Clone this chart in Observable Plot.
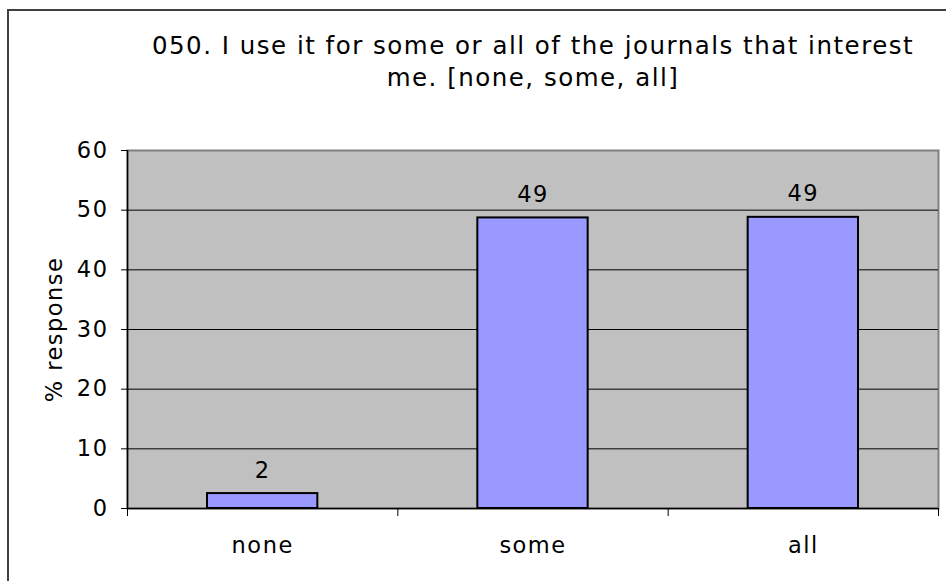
<!DOCTYPE html>
<html>
<head>
<meta charset="utf-8">
<script src="https://cdn.jsdelivr.net/npm/d3@7"></script>
<script src="https://cdn.jsdelivr.net/npm/@observablehq/plot@0.6"></script>
<style>
  html, body { margin: 0; padding: 0; background: #fff; }
  #wrap { position: relative; width: 946px; height: 581px; overflow: hidden; }
  #border { position: absolute; left: 7px; top: 9px; width: 960px; height: 600px; border: 2px solid #404040; box-sizing: border-box; }
  #chart { position: absolute; left: 0; top: 0; }
  #chart svg text { letter-spacing: 1.5px; }
</style>
</head>
<body>
<div id="wrap"><div id="border"></div><div id="chart"></div></div>
<script>
const titleText = "050. I use it for some or all of the journals that interest\nme. [none, some, all]";
const categories = ["none", "some", "all"];
const values = [2.5, 48.7, 48.8];
const valueLabels = ["2", "49", "49"];
const yTicks = [0, 10, 20, 30, 40, 50, 60];
const yLabel = "% response";

const data = categories.map((c, i) => ({cat: c, i, value: values[i], label: valueLabels[i]}));

const chart = Plot.plot({
  width: 946,
  height: 581,
  marginLeft: 127,
  marginRight: 8,
  marginTop: 150,
  marginBottom: 73,
  style: {fontFamily: "DejaVu Sans, Verdana, sans-serif", fontSize: "22.5px", color: "#000", background: "transparent"},
  x: {domain: [0, categories.length], axis: null},
  y: {domain: [0, 60], axis: null},
  marks: [
    Plot.frame({fill: "#C0C0C0", stroke: "#808080", strokeWidth: 2}),
    Plot.ruleY(yTicks.filter(t => t > 0 && t < 60), {stroke: "#000", strokeWidth: 1}),
    Plot.rectY(data, {x1: d => d.i, x2: d => d.i + 1, y: "value", insetLeft: 80, insetRight: 80, fill: "#9999FF", stroke: "#000", strokeWidth: 2}),
    Plot.text(data, {x: d => d.i + 0.5, y: "value", text: "label", lineAnchor: "bottom", dy: -16, fontSize: 22.5}),
    Plot.ruleX([0], {stroke: "#000", strokeWidth: 1.5}),
    Plot.ruleY([0], {stroke: "#000", strokeWidth: 1.5}),
    Plot.axisY({ticks: yTicks, tickSize: 6, tickPadding: 13, label: null, fontSize: 22.5}),
    Plot.axisX({ticks: d3.range(categories.length + 1), tickSize: 8, tickFormat: () => "", label: null}),
    Plot.axisX({ticks: categories.map((c, i) => i + 0.5), tickSize: 0, tickPadding: 29, tickFormat: t => categories[Math.floor(t)], label: null, fontSize: 22.5}),
    Plot.text([yLabel], {frameAnchor: "left", textAnchor: "middle", rotate: -90, dx: -73, text: d => d, fontSize: 22.5}),
    Plot.text([titleText], {frameAnchor: "top", dy: -119, lineAnchor: "top", lineHeight: 1.3, text: d => d, fontSize: 24.5})
  ]
});
document.getElementById("chart").appendChild(chart);
</script>
</body>
</html>
